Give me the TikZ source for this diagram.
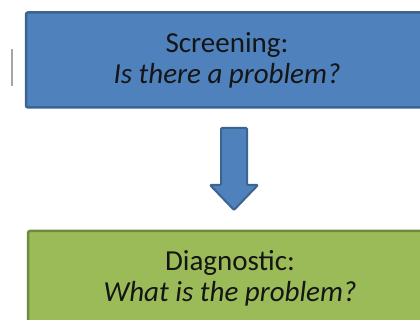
\documentclass[tikz,border=0pt]{standalone}
\usepackage{fontspec}
\setmainfont{Carlito}
\definecolor{bfill}{HTML}{4F81BD}
\definecolor{bline}{HTML}{3B6491}
\definecolor{gfill}{HTML}{9BBB59}
\definecolor{gline}{HTML}{6F8A3C}
\definecolor{txt}{HTML}{151515}
\tikzset{
  stagebox/.style={draw, line width=2.5pt, rounded corners=2pt, inner sep=0pt,
    align=center, text=txt, font=\fontsize{29}{31}\selectfont},
  blockarrow/.style={draw=bline, fill=bfill, line width=2pt, line join=round, rounded corners=1pt}
}
\begin{document}
\begin{tikzpicture}[x=1pt,y=-1pt]
\useasboundingbox (0,0) rectangle (420,320);
\clip (0,0) rectangle (420,320);
\fill[white] (0,0) rectangle (420,320);
\draw[gray!70, line width=1.2pt] (12,49) -- (12,86);
\node[stagebox, fill=bfill, draw=bline, minimum width=402pt, minimum height=95pt] (scr) at (227,60)
  {Screening:\\\textit{Is there a problem?}};
\node[stagebox, fill=gfill, draw=gline, minimum width=404pt, minimum height=94pt] (dia) at (230,278)
  {Diagnostic:\\\textit{What is the problem?}};
\draw[blockarrow] (221,128) -- (247,128) -- (247,185) -- (258,185) -- (234,210) -- (210,185) -- (221,185) -- cycle;
\end{tikzpicture}
\end{document}
